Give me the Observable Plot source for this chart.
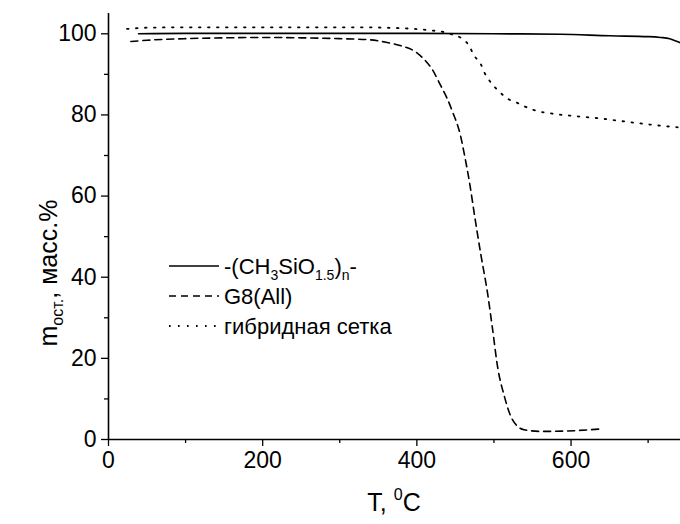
<!DOCTYPE html>
<html>
<head>
<meta charset="utf-8">
<script src="https://cdn.jsdelivr.net/npm/d3@7"></script>
<script src="https://cdn.jsdelivr.net/npm/@observablehq/plot@0.6"></script>
<style>
  html, body { margin: 0; padding: 0; background: #fff; }
  svg { display: block; }
</style>
</head>
<body>
<div id="chart"></div>
<script>
// ---- data ----
const seriesNames = ["-(CH3SiO1.5)n-", "G8(All)", "гибридная сетка"];

const solidT = [39, 100, 200, 300, 400, 500, 586, 651, 700, 716, 728, 735, 742];
const solidV = [100.0, 100.1, 100.1, 100.1, 100.1, 100.0, 99.9, 99.5, 99.3, 99.1, 98.8, 98.3, 97.8];

const g8T = [29, 50, 100, 150, 200, 250, 300, 340, 360, 380, 398, 410, 420, 431, 439, 446, 457, 461, 468, 476, 483, 492, 498, 505, 513, 524, 539, 561, 595, 639];
const g8V = [98.1, 98.4, 98.8, 99.0, 99.1, 99.0, 98.8, 98.5, 97.9, 97.0, 95.6, 93.6, 91.2, 87.2, 84.2, 80.9, 74.6, 70.9, 63.7, 53.8, 45.6, 35.7, 27.5, 17.6, 11.0, 4.9, 2.4, 2.0, 2.1, 2.6];

const hybT = [24, 50, 100, 150, 200, 250, 300, 330, 361, 397, 420, 433, 446, 457, 468, 474, 483, 488, 496, 506, 517, 530, 541, 552, 576, 600, 634, 673, 708, 742];
const hybV = [101.2, 101.5, 101.6, 101.6, 101.6, 101.6, 101.6, 101.6, 101.5, 101.2, 100.8, 100.5, 99.8, 99.0, 97.0, 94.7, 92.5, 90.3, 88.0, 85.9, 84.1, 83.0, 82.0, 81.2, 80.3, 79.8, 79.2, 78.3, 77.5, 76.9];

const xMajor = [0, 200, 400, 600];
const xMinor = [100, 300, 500, 700];
const yMajor = [0, 20, 40, 60, 80, 100];
const yMinor = [10, 30, 50, 70, 90];

const toRows = (T, V) => T.map((t, i) => ({t, v: V[i]}));
const solid = toRows(solidT, solidV);
const g8 = toRows(g8T, g8V);
const hyb = toRows(hybT, hybV);

const FONT = "'Liberation Sans', Arial, sans-serif";

const plot = Plot.plot({
  width: 680,
  height: 524,
  marginLeft: 108,
  marginRight: 0,
  marginTop: 13,
  marginBottom: 85,
  style: {fontFamily: FONT, fontSize: "23px", color: "#000", background: "#fff"},
  x: {domain: [0, 742]},
  y: {domain: [0, 105]},
  marks: [
    Plot.axisX({ticks: xMajor, tickSize: 7, tickPadding: 5, label: null, fontSize: 23, strokeWidth: 1.3}),
    Plot.axisX({ticks: xMinor, tickSize: 4, tickFormat: () => "", label: null, strokeWidth: 1.3}),
    Plot.axisY({ticks: yMajor, tickSize: 7, tickPadding: 5, label: null, fontSize: 23, strokeWidth: 1.3}),
    Plot.axisY({ticks: yMinor, tickSize: 4, tickFormat: () => "", label: null, strokeWidth: 1.3}),
    Plot.ruleY([0], {stroke: "#000", strokeWidth: 1.6}),
    Plot.ruleX([0], {stroke: "#000", strokeWidth: 1.6}),
    Plot.line(solid, {x: "t", y: "v", stroke: "#000", strokeWidth: 1.6, curve: "monotone-x"}),
    Plot.line(g8, {x: "t", y: "v", stroke: "#000", strokeWidth: 1.6, strokeDasharray: "7,5", curve: "monotone-x"}),
    Plot.line(hyb, {x: "t", y: "v", stroke: "#000", strokeWidth: 1.8, strokeDasharray: "1.6,7.4", curve: "monotone-x"})
  ]
});

document.getElementById("chart").appendChild(plot);

const svg = d3.select(plot);

// axis titles
const xt = svg.append("text")
  .attr("x", 394).attr("y", 511)
  .attr("text-anchor", "middle")
  .style("font-family", FONT).style("font-size", "25px").attr("fill", "#000");
xt.append("tspan").text("T, ");
xt.append("tspan").attr("dy", -11).style("font-size", "16px").text("0");
xt.append("tspan").attr("dy", 11).text("C");

const yt = svg.append("text")
  .attr("transform", "translate(57,273) rotate(-90)")
  .attr("text-anchor", "middle")
  .style("font-family", FONT).style("font-size", "25px").attr("fill", "#000");
yt.append("tspan").text("m");
yt.append("tspan").attr("dy", 6).style("font-size", "16px").text("ост.");
yt.append("tspan").attr("dy", -6).text(", масс.%");

// legend
const legendRows = [
  {dash: null, w: 1.6, y: 266, parts: [["-(CH", 0, 22], ["3", 6, 14], ["SiO", -6, 22], ["1.5", 6, 14], [")", -6, 22], ["n", 6, 14], ["-", -6, 22]]},
  {dash: "7,5", w: 1.6, y: 296, parts: [[seriesNames[1], 0, 22]]},
  {dash: "1.6,7.4", w: 1.8, y: 326, parts: [[seriesNames[2], 0, 22]]}
];
legendRows.forEach(r => {
  const ln = svg.append("line")
    .attr("x1", 169).attr("x2", 219).attr("y1", r.y).attr("y2", r.y)
    .attr("stroke", "#000").attr("stroke-width", r.w);
  if (r.dash) ln.attr("stroke-dasharray", r.dash);
  const t = svg.append("text")
    .attr("x", 224).attr("y", r.y + 8)
    .attr("text-anchor", "start")
    .style("font-family", FONT).style("font-size", "22px").attr("fill", "#000");
  r.parts.forEach(([s, dy, fs]) => {
    t.append("tspan").attr("dy", dy).style("font-size", fs + "px").text(s);
  });
});
</script>
</body>
</html>
